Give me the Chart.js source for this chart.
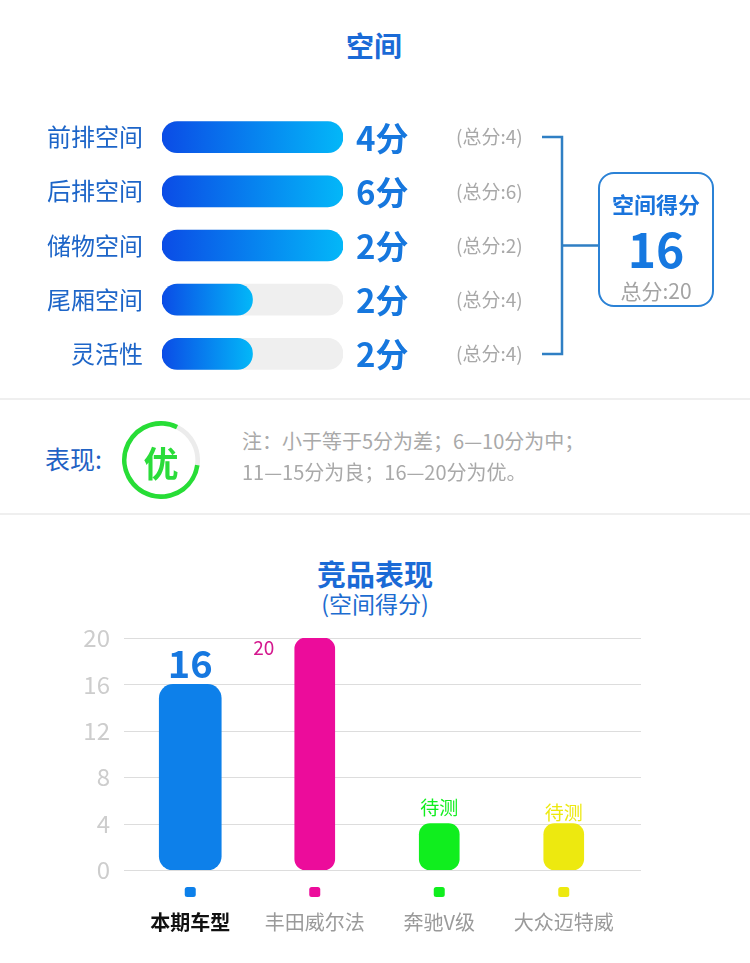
<!DOCTYPE html>
<html>
<head>
<meta charset="utf-8">
<script src="https://cdn.jsdelivr.net/npm/chart.js@4.4.1/dist/chart.umd.min.js"></script>
<style>
  body { margin: 0; background: #fff; font-family: "Noto Sans CJK SC", "Noto Sans", sans-serif; }
  #page { position: relative; width: 750px; height: 963px; overflow: hidden; background: #fff; }
  .abs { position: absolute; line-height: 1; white-space: nowrap; }
  .mid { transform: translateY(-50%); }
  .ctr { transform: translate(-50%, -50%); }
  .rule { position: absolute; left: 0; width: 750px; height: 2px; background: #efefef; }
  #box { position: absolute; left: 598px; top: 172px; width: 112px; height: 131px;
         border: 2px solid #2b82d6; border-radius: 16px; }
</style>
</head>
<body>
<div id="page">
  <div class="abs ctr" style="left:374px;top:45px;font-size:28px;font-weight:bold;color:#1a6ad6;">空间</div>

  <div class="abs" style="left:0;top:110px;width:750px;height:271px;"><canvas id="chart-space"></canvas></div>

  <div id="box"></div>
  <div class="abs ctr" style="left:656px;top:203px;font-size:22px;font-weight:bold;color:#1a74dc;">空间得分</div>
  <div class="abs ctr" id="box-score" style="left:656px;top:247px;font-size:48px;font-weight:bold;color:#1678e0;"></div>
  <div class="abs ctr" id="box-total" style="left:656px;top:290px;font-size:21px;color:#a3a3a3;"></div>

  <div class="rule" style="top:398px;"></div>

  <div class="abs mid" style="left:45px;top:458px;font-size:25px;color:#1f62c4;">表现:</div>
  <div class="abs" style="left:122px;top:421px;width:78px;height:78px;"><canvas id="chart-grade"></canvas></div>
  <div class="abs ctr" id="grade-text" style="left:161px;top:461px;font-size:35px;font-weight:bold;color:#2bdc3a;"></div>
  <div class="abs mid" id="note1" style="left:242px;top:441px;font-size:20px;color:#a9a9a9;"></div>
  <div class="abs mid" id="note2" style="left:242px;top:472px;font-size:20px;color:#a9a9a9;"></div>

  <div class="rule" style="top:513px;"></div>

  <div class="abs ctr" style="left:375px;top:573px;font-size:29px;font-weight:bold;color:#1a6ad6;">竞品表现</div>
  <div class="abs ctr" style="left:375px;top:603px;font-size:23px;color:#1d6cd0;">(空间得分)</div>

  <div class="abs" style="left:0;top:620px;width:750px;height:330px;"><canvas id="chart-rival"></canvas></div>
</div>

<script>
// ===== DATA =====
const spaceItems = ['前排空间', '后排空间', '储物空间', '尾厢空间', '灵活性'];
const spaceScores = [4, 6, 2, 2, 2];
const spaceTotals = [4, 6, 2, 4, 4];
const spaceSum = 16;
const spaceMax = 20;
const gradeName = '优';
const gradeNotes = ['注：小于等于5分为差；6—10分为中；', '11—15分为良；16—20分为优。'];

const rivalNames = ['本期车型', '丰田威尔法', '奔驰V级', '大众迈特威'];
const rivalScores = [16, 20, 4, 4];
const rivalLabels = ['16', '20', '待测', '待测'];
const rivalColors = ['#0d80ea', '#ec0c9b', '#10ee1e', '#ede90f'];
const rivalTicks = [0, 4, 8, 12, 16, 20];

const FONT = '"Noto Sans CJK SC", "Noto Sans", sans-serif';

document.getElementById('box-score').textContent = spaceSum;
document.getElementById('box-total').textContent = '总分:' + spaceMax;
document.getElementById('grade-text').textContent = gradeName;
document.getElementById('note1').textContent = gradeNotes[0];
document.getElementById('note2').textContent = gradeNotes[1];

// vertical category/linear axes add label padding above and below; drop it
function noEndPadding(scale) {
  scale.paddingTop = 0;
  scale.paddingBottom = 0;
}

// ===== SPACE BARS =====
const spaceText = {
  id: 'spaceText',
  afterDatasetsDraw(chart) {
    const { ctx, scales: { x, y } } = chart;
    const xEnd = x.getPixelForValue(1);
    ctx.save();
    ctx.textBaseline = 'middle';
    spaceItems.forEach((name, i) => {
      const py = y.getPixelForValue(i);
      ctx.fillStyle = '#1677de';
      ctx.font = 'bold 33px ' + FONT;
      ctx.fillText(spaceScores[i] + '分', xEnd + 13, py + 1);
      ctx.fillStyle = '#a8a8a8';
      ctx.font = '19px ' + FONT;
      ctx.fillText('(总分:' + spaceTotals[i] + ')', xEnd + 113, py);
    });
    // bracket joining the rows to the score box
    const y0 = y.getPixelForValue(0);
    const y1 = y.getPixelForValue(spaceItems.length - 1);
    const bx = xEnd + 219;
    ctx.strokeStyle = '#2f7fc4';
    ctx.lineWidth = 2.5;
    ctx.beginPath();
    ctx.moveTo(bx - 20, y0); ctx.lineTo(bx, y0); ctx.lineTo(bx, y1); ctx.lineTo(bx - 20, y1);
    ctx.moveTo(bx, (y0 + y1) / 2); ctx.lineTo(bx + 37, (y0 + y1) / 2);
    ctx.stroke();
    ctx.restore();
  }
};

new Chart(document.getElementById('chart-space'), {
  type: 'bar',
  data: {
    labels: spaceItems,
    datasets: [{
      data: spaceScores.map((s, i) => s / spaceTotals[i]),
      backgroundColor(c) {
        const chart = c.chart;
        if (!chart.chartArea) return '#0a6ee8';
        const x = chart.scales.x;
        const x0 = x.getPixelForValue(0);
        const x1 = Math.max(x.getPixelForValue(c.raw || 0), x0 + 1);
        const g = chart.ctx.createLinearGradient(x0, 0, x1, 0);
        g.addColorStop(0, '#0b4ce6');
        g.addColorStop(1, '#03b7f8');
        return g;
      },
      borderRadius: 16,
      borderSkipped: false,
      barThickness: 31,
      grouped: false,
      order: 0
    }, {
      data: spaceTotals.map(() => 1),
      backgroundColor: '#efefef',
      borderRadius: 16,
      borderSkipped: false,
      barThickness: 31,
      grouped: false,
      order: 1
    }]
  },
  options: {
    indexAxis: 'y',
    responsive: true,
    maintainAspectRatio: false,
    animation: false,
    events: [],
    layout: { padding: { left: 0, right: 407, top: 0, bottom: 0 } },
    plugins: { legend: { display: false }, tooltip: { enabled: false } },
    scales: {
      x: { display: false, min: 0, max: 1 },
      y: {
        grid: { display: false, drawTicks: false },
        border: { display: false },
        ticks: { color: '#1d65c8', padding: 19, font: { family: FONT, size: 24 } },
        afterFit(scale) { scale.width = 162; noEndPadding(scale); }
      }
    }
  },
  plugins: [spaceText]
});

// ===== GRADE RING =====
new Chart(document.getElementById('chart-grade'), {
  type: 'doughnut',
  data: {
    datasets: [{
      data: [spaceMax - spaceSum, spaceSum],
      backgroundColor: ['#ececec', '#27dd36'],
      borderWidth: 0
    }]
  },
  options: {
    responsive: true,
    maintainAspectRatio: false,
    animation: false,
    events: [],
    cutout: '88%',
    rotation: 26,
    plugins: { legend: { display: false }, tooltip: { enabled: false } }
  }
});

// ===== RIVAL BARS =====
const rivalDeco = {
  id: 'rivalDeco',
  beforeDatasetsDraw(chart) {
    const { ctx, chartArea: a, scales: { y } } = chart;
    ctx.save();
    ctx.strokeStyle = '#dddddd';
    ctx.lineWidth = 1.2;
    for (const t of rivalTicks) {
      const py = Math.round(y.getPixelForValue(t)) + 0.5;
      ctx.beginPath();
      ctx.moveTo(a.left - 4, py);
      ctx.lineTo(a.right + 15, py);
      ctx.stroke();
    }
    ctx.restore();
  },
  afterDatasetsDraw(chart) {
    const { ctx, chartArea: a, scales: { x } } = chart;
    ctx.save();
    // value labels above bars
    rivalLabels.forEach((txt, i) => {
      const bar = chart.getDatasetMeta(i === 0 ? 0 : 1).data[i];
      ctx.textAlign = 'center';
      ctx.textBaseline = 'middle';
      if (i === 0) {
        ctx.font = 'bold 38px ' + FONT;
        ctx.fillStyle = '#1678e0';
        ctx.fillText(txt, bar.x, bar.y - 21);
      } else if (i === 1) {
        ctx.font = '19px ' + FONT;
        ctx.fillStyle = '#d4188e';
        ctx.fillText(txt, bar.x - 51, bar.y + 10);
      } else {
        ctx.font = '19px ' + FONT;
        ctx.fillStyle = rivalColors[i];
        ctx.fillText(txt, bar.x, bar.y - (i === 2 ? 16 : 11));
      }
    });
    // legend squares under the axis
    rivalNames.forEach((n, i) => {
      const px = x.getPixelForValue(i);
      ctx.fillStyle = rivalColors[i];
      ctx.beginPath();
      ctx.roundRect(px - 5.5, a.bottom + 17, 11, 10, 2.5);
      ctx.fill();
    });
    ctx.restore();
  }
};

new Chart(document.getElementById('chart-rival'), {
  type: 'bar',
  data: {
    labels: rivalNames,
    datasets: [{
      data: rivalScores.map((v, i) => i === 0 ? v : null),
      backgroundColor: rivalColors,
      borderRadius: 14,
      borderSkipped: false,
      barThickness: 62,
      grouped: false
    }, {
      data: rivalScores.map((v, i) => i === 0 ? null : v),
      backgroundColor: rivalColors,
      borderRadius: 11,
      borderSkipped: false,
      barThickness: 40,
      grouped: false
    }]
  },
  options: {
    responsive: true,
    maintainAspectRatio: false,
    animation: false,
    events: [],
    layout: { padding: { left: 0, right: 124, top: 18, bottom: 0 } },
    plugins: { legend: { display: false }, tooltip: { enabled: false } },
    scales: {
      x: {
        grid: { display: false, drawTicks: false },
        border: { display: false },
        ticks: {
          padding: 40,
          color: c => c.index === 0 ? '#111111' : '#9a9a9a',
          font: c => ({ family: FONT, size: 20, weight: c.index === 0 ? 'bold' : 'normal' })
        },
        afterFit(scale) { scale.height = 80; }
      },
      y: {
        min: 0,
        max: 20,
        grid: { display: false, drawTicks: false },
        border: { display: false },
        ticks: { stepSize: 4, padding: 18, color: '#cdcdcd', font: { family: FONT, size: 24 } },
        afterFit(scale) { scale.width = 128; noEndPadding(scale); }
      }
    }
  },
  plugins: [rivalDeco]
});
</script>
</body>
</html>
